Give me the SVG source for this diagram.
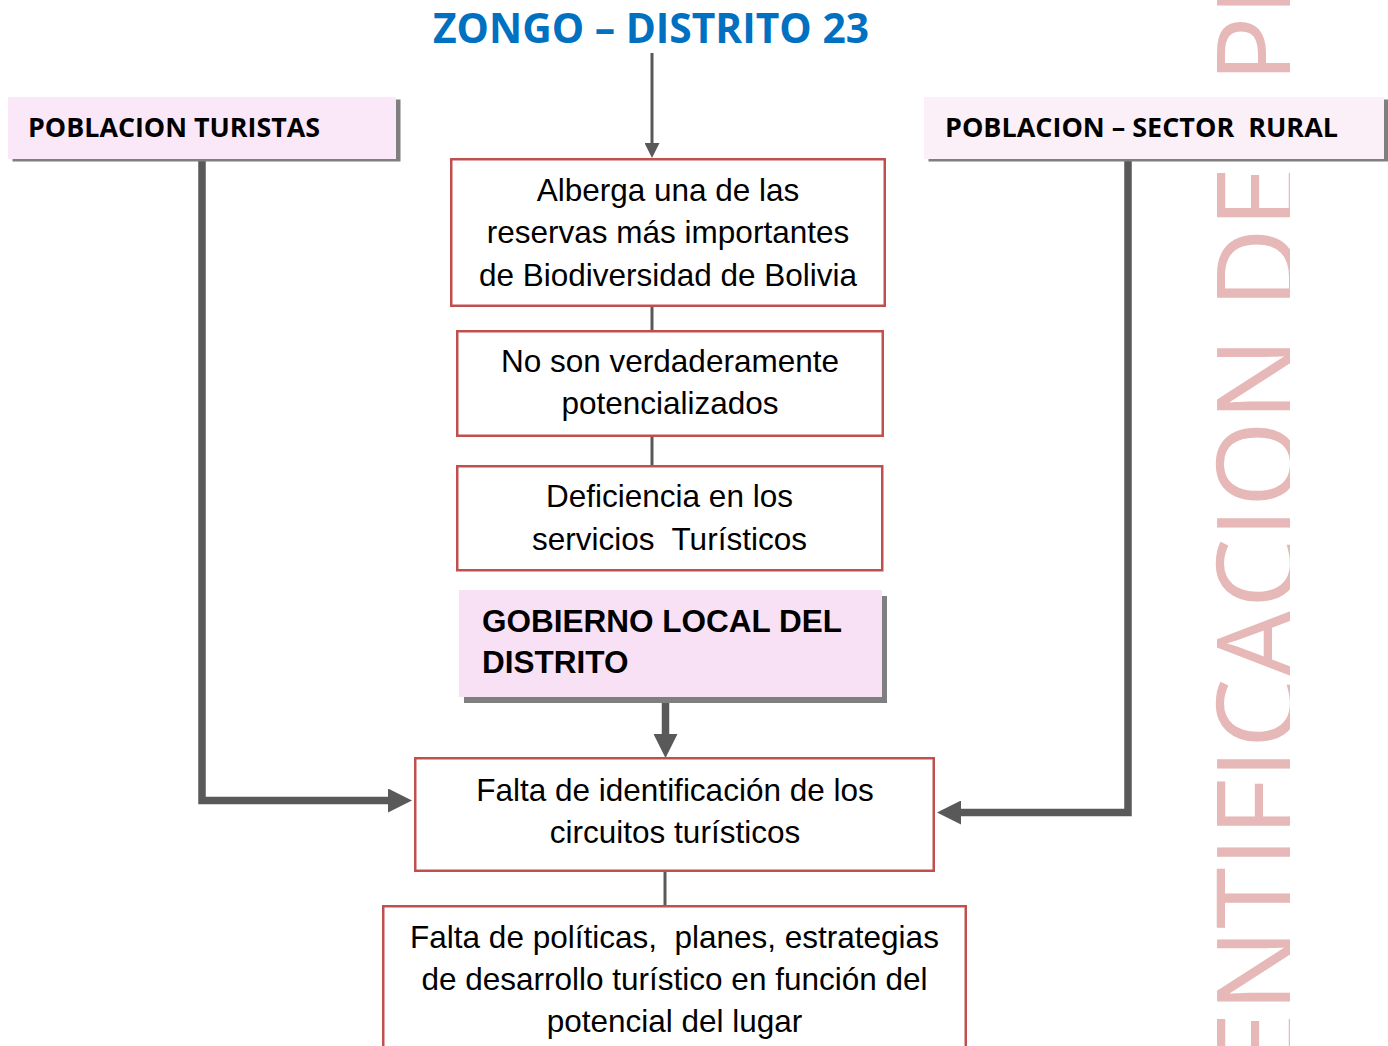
<svg xmlns="http://www.w3.org/2000/svg" width="1388" height="1046" viewBox="0 0 1388 1046">
<style>
.box{fill:#ffffff;stroke:#C0504D;stroke-width:2.5}
.shadow{fill:#7F7F7F}
.t{font-family:"Liberation Sans",Arial,sans-serif;font-size:31.5px;fill:#000;text-anchor:middle}
.tb{font-family:"Liberation Sans",Arial,sans-serif;font-size:31.5px;font-weight:bold;fill:#000}
.hd{font-family:"Open Sans","Liberation Sans",sans-serif;font-size:27px;font-weight:bold;fill:#000}
.thin{fill:none;stroke:#595959;stroke-width:3}
.thick{fill:none;stroke:#595959;stroke-width:7.5;stroke-linejoin:miter}
.wm{font-family:"Open Sans","Liberation Sans",sans-serif;font-size:111px;fill:#E6B8B7}
</style>
<defs>
<marker id="ahThick" viewBox="0 -12 24 24" markerWidth="24" markerHeight="24" refX="0" refY="0" markerUnits="userSpaceOnUse" orient="auto">
<path d="M0,-12 L24,0 L0,12 z" fill="#595959"/>
</marker>
<marker id="ahThin" viewBox="0 -7.5 15 15" markerWidth="15" markerHeight="15" refX="0" refY="0" markerUnits="userSpaceOnUse" orient="auto">
<path d="M0,-7.5 L15,0 L0,7.5 z" fill="#595959"/>
</marker>
<clipPath id="wmclip"><rect x="1150" y="0" width="140" height="1046"/></clipPath>
</defs>
<rect x="0" y="0" width="1388" height="1046" fill="#ffffff"/>
<g id="watermark" clip-path="url(#wmclip)">
<text class="wm" transform="rotate(-90)" x="-1074" y="1297">ENTIFICACION DE</text>
<text class="wm" transform="rotate(-90)" x="-83" y="1297">PR</text>
</g>
<g id="title">
<text x="433" y="43" textLength="436" lengthAdjust="spacingAndGlyphs" style="font-family:'Open Sans','Liberation Sans',sans-serif;font-size:41px;font-weight:bold;fill:#0070C0">ZONGO – DISTRITO 23</text>
</g>
<g id="connectors">
<path class="thin" d="M652,53 V143" marker-end="url(#ahThin)"/>
<path class="thin" d="M652,306 V331"/>
<path class="thin" d="M652,436 V466"/>
<path class="thick" d="M665.5,697 V734" marker-end="url(#ahThick)"/>
<path class="thin" d="M665,871 V906"/>
<path class="thick" d="M202,160 V800.5 H388" marker-end="url(#ahThick)"/>
<path class="thick" d="M1128,160 V812.5 H961" marker-end="url(#ahThick)"/>
</g>
<g id="poblacion-turistas">
<rect class="shadow" x="12.5" y="99.5" width="388" height="62"/>
<rect x="8" y="97" width="388" height="62" fill="#FAE8F8"/>
<text class="hd" x="28" y="137" textLength="292" lengthAdjust="spacingAndGlyphs">POBLACION TURISTAS</text>
</g>
<g id="poblacion-rural">
<rect class="shadow" x="928.5" y="99.5" width="459.5" height="62"/>
<rect x="924" y="97" width="460" height="62" fill="#FCF0F8"/>
<text class="hd" x="945" y="137" textLength="393" lengthAdjust="spacingAndGlyphs" xml:space="preserve">POBLACION – SECTOR  RURAL</text>
</g>
<g id="alberga">
<rect class="box" x="451.25" y="159.25" width="433.5" height="146.5"/>
<text class="t" x="668" y="201">Alberga una de las</text>
<text class="t" x="668" y="243">reservas más importantes</text>
<text class="t" x="668" y="286">de Biodiversidad de Bolivia</text>
</g>
<g id="no-son">
<rect class="box" x="457.25" y="331.25" width="425.5" height="104.5"/>
<text class="t" x="670" y="372">No son verdaderamente</text>
<text class="t" x="670" y="414">potencializados</text>
</g>
<g id="deficiencia">
<rect class="box" x="457.25" y="466.25" width="425" height="104"/>
<text class="t" x="669.5" y="507">Deficiencia en los</text>
<text class="t" x="669.5" y="550" xml:space="preserve">servicios  Turísticos</text>
</g>
<g id="gobierno">
<rect class="shadow" x="464" y="596" width="423" height="107"/>
<rect x="459" y="590" width="423" height="107" fill="#F9E1F5"/>
<text class="tb" x="482" y="632">GOBIERNO LOCAL DEL</text>
<text class="tb" x="482" y="673">DISTRITO</text>
</g>
<g id="falta-identificacion">
<rect class="box" x="415.25" y="758.25" width="518.5" height="112.5"/>
<text class="t" x="675" y="801">Falta de identificación de los</text>
<text class="t" x="675" y="843">circuitos turísticos</text>
</g>
<g id="falta-politicas">
<rect class="box" x="383.25" y="906.25" width="582.5" height="170"/>
<text class="t" x="674.5" y="948" xml:space="preserve">Falta de políticas,  planes, estrategias</text>
<text class="t" x="674.5" y="990">de desarrollo turístico en función del</text>
<text class="t" x="674.5" y="1032">potencial del lugar</text>
</g>
</svg>
